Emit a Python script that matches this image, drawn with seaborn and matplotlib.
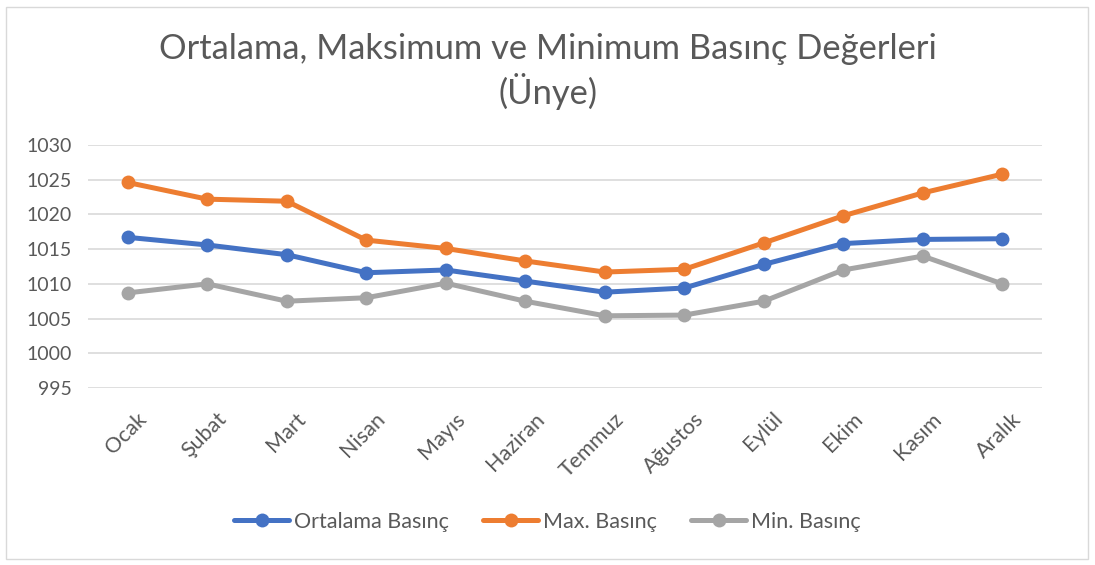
import pandas as pd
import matplotlib.pyplot as plt
import seaborn as sns
from matplotlib.patches import Rectangle
from matplotlib.transforms import ScaledTranslation

aylar = ['Ocak', 'Şubat', 'Mart', 'Nisan', 'Mayıs', 'Haziran',
         'Temmuz', 'Ağustos', 'Eylül', 'Ekim', 'Kasım', 'Aralık']
ortalama = [1016.7, 1015.6, 1014.2, 1011.6, 1012.0, 1010.4,
            1008.8, 1009.4, 1012.8, 1015.8, 1016.4, 1016.5]
maksimum = [1024.6, 1022.2, 1021.9, 1016.3, 1015.1, 1013.3,
            1011.7, 1012.1, 1015.9, 1019.8, 1023.1, 1025.8]
minimum = [1008.7, 1010.0, 1007.5, 1008.0, 1010.1, 1007.5,
           1005.4, 1005.5, 1007.5, 1012.0, 1014.0, 1010.0]
seriler = ['Ortalama Basınç', 'Max. Basınç', 'Min. Basınç']

df = pd.DataFrame({'Ay': aylar, seriler[0]: ortalama,
                   seriler[1]: maksimum, seriler[2]: minimum})
df_long = df.melt(id_vars='Ay', value_vars=seriler,
                  var_name='Seri', value_name='Basınç')

sns.set_style('white')
plt.rcParams['font.family'] = ['Lato', 'DejaVu Sans']
text_color = '#595959'

fig = plt.figure(figsize=(10.95, 5.65), dpi=100)
ax = fig.add_axes([88 / 1095, 1 - 388 / 565, 954 / 1095, 243 / 565])

renkler = {seriler[0]: '#4472C4', seriler[1]: '#ED7D31', seriler[2]: '#A5A5A5'}
sns.lineplot(data=df_long, x='Ay', y='Basınç', hue='Seri', palette=renkler,
             marker='o', markersize=10, markeredgewidth=0, linewidth=3.6,
             sort=False, ax=ax)

ax.set_xlim(-0.5, 11.5)
ax.set_ylim(995, 1030)
ax.set_yticks(range(995, 1031, 5))
ax.grid(axis='y', color='#D9D9D9', linewidth=1.2)
ax.set_axisbelow(True)
for s in ax.spines.values():
    s.set_visible(False)
ax.set_xlabel('')
ax.set_ylabel('')
ax.tick_params(axis='both', length=0, colors=text_color)
ax.tick_params(axis='y', pad=11.5, labelsize=14)
ax.tick_params(axis='x', pad=15, labelsize=15.5)
kaydir = ScaledTranslation(9 / 100, 0, fig.dpi_scale_trans)
for lbl in ax.get_xticklabels():
    lbl.set_rotation(45)
    lbl.set_ha('right')
    lbl.set_rotation_mode('anchor')
    lbl.set_transform(lbl.get_transform() + kaydir)

handles, labels = ax.get_legend_handles_labels()
ax.get_legend().remove()
fig.legend(handles, labels, loc='center', bbox_to_anchor=(0.5, 1 - 522 / 565),
           ncol=3, frameon=False, fontsize=15.5, handlelength=2.55,
           handletextpad=0.23, columnspacing=1.6, labelcolor=text_color)

fig.text(0.5, 1 - 49 / 565, 'Ortalama, Maksimum ve Minimum Basınç Değerleri',
         ha='center', va='center', fontsize=24.8, color=text_color)
fig.text(0.5, 1 - 92 / 565, '(Ünye)', ha='center', va='center',
         fontsize=24.8, color=text_color)

fig.patches.append(Rectangle((6 / 1095, 6 / 565), 1082 / 1095, 552 / 565,
                             transform=fig.transFigure, fill=False,
                             edgecolor='#D9D9D9', linewidth=1))

fig.savefig('out.png', dpi=100)
